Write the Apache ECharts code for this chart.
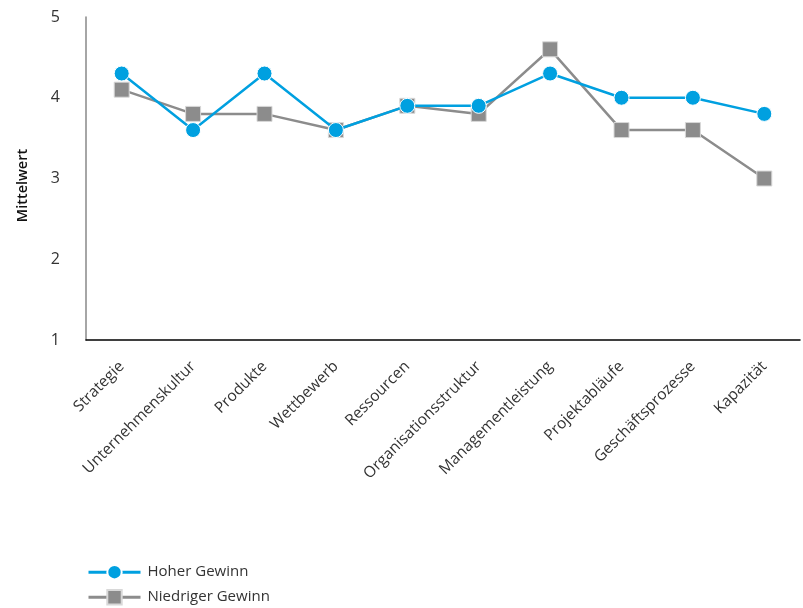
<!DOCTYPE html>
<html><head><meta charset="utf-8">
<script src="https://cdn.jsdelivr.net/npm/echarts@6/dist/echarts.min.js"></script>
<style>html,body{margin:0;padding:0;background:#fff}#c{width:803px;height:608px}</style>
</head><body><div id="c"></div>
<script>
const categories = ["Strategie","Unternehmenskultur","Produkte","Wettbewerb","Ressourcen","Organisationsstruktur","Managementleistung","Projektabläufe","Geschäftsprozesse","Kapazität"];
const hoherGewinn = [4.3,3.6,4.3,3.6,3.9,3.9,4.3,4.0,4.0,3.8];
const niedrigerGewinn = [4.1,3.8,3.8,3.6,3.9,3.8,4.6,3.6,3.6,3.0];
const yTicks = [1,2,3,4,5];
const seriesNames = ["Hoher Gewinn","Niedriger Gewinn"];

const font = "'Open Sans', 'Noto Sans', sans-serif";
const legendBase = {
  orient:'horizontal',left:82,itemWidth:52,itemHeight:18,
  lineStyle:{width:3},
  textStyle:{fontSize:15,color:'#333',fontFamily:font,padding:[0,0,0,2]}
};
const chart = echarts.init(document.getElementById('c'));
chart.setOption({
  animation:false,
  textStyle:{fontFamily:font},
  grid:{left:86,right:3,top:17,bottom:268,containLabel:false},
  legend:[
    Object.assign({},legendBase,{top:559,data:[seriesNames[0]]}),
    Object.assign({},legendBase,{top:584,data:[seriesNames[1]]})
  ],
  xAxis:{
    type:'category',data:categories,boundaryGap:true,
    axisLine:{lineStyle:{color:'#000',width:1.5}},
    axisTick:{show:false},
    axisLabel:{rotate:45,interval:0,margin:24,fontSize:15.5,color:'#333',fontFamily:font}
  },
  yAxis:{
    type:'value',min:yTicks[0],max:yTicks[yTicks.length-1],interval:1,
    name:'Mittelwert',nameLocation:'middle',nameGap:56,
    nameTextStyle:{fontSize:14.5,fontWeight:600,color:'#111',fontFamily:font,padding:[0,0,0,-14]},
    axisLine:{show:true,lineStyle:{color:'#888',width:1.5}},
    axisTick:{show:false},splitLine:{show:false},
    axisLabel:{margin:26,fontSize:16,color:'#333',fontFamily:font}
  },
  series:[
    {name:seriesNames[0],type:'line',data:hoherGewinn,z:4,
     symbol:'circle',symbolSize:15,
     lineStyle:{color:'#00a0e0',width:2.5},
     itemStyle:{color:'#00a0e0',borderColor:'#ffffff',borderWidth:1}},
    {name:seriesNames[1],type:'line',data:niedrigerGewinn,z:3,
     symbol:'rect',symbolSize:15,
     lineStyle:{color:'#8c8c8c',width:2.5},
     itemStyle:{color:'#8c8c8c',borderColor:'#d8d8d8',borderWidth:1}}
  ]
});
</script></body></html>
